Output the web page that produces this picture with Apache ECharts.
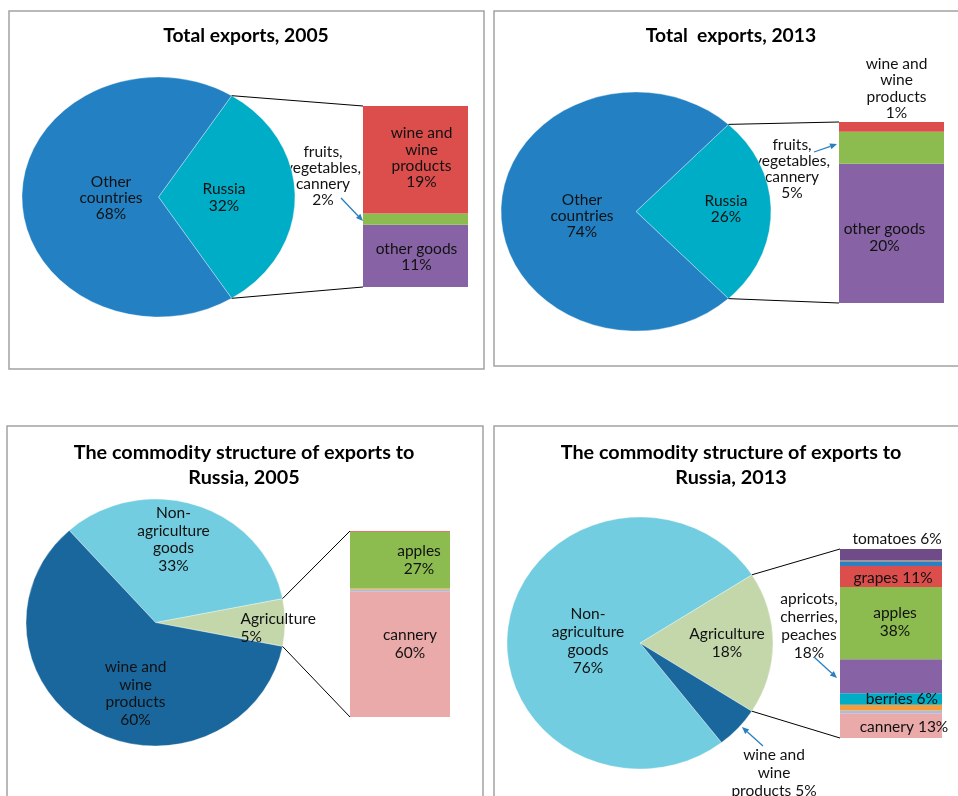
<!DOCTYPE html>
<html><head><meta charset="utf-8">
<script src="https://cdn.jsdelivr.net/npm/echarts@6/dist/echarts.min.js"></script>
<style>html,body{margin:0;padding:0;background:#fff}#c{width:958px;height:796px}</style>
</head><body><div id="c"></div>
<script>
// ---------------- data ----------------
// Pie slices are listed counter-clockwise, starting with the slice that is exploded into the bar.
const total2005Slices = ['Russia', 'Other\ncountries'];
const total2005Values = [32, 68];
const total2005Pct = [32, 68];
// bar segments, bottom to top
const total2005BarItems = ['other goods', 'fruits, vegetables, cannery', 'wine and wine products'];
const total2005BarValues = [11, 2, 19];
const total2005BarLabels = ['other goods\n11%', '', 'wine and\nwine\nproducts\n19%'];

const total2013Slices = ['Russia', 'Other\ncountries'];
const total2013Values = [26, 74];
const total2013Pct = [26, 74];
const total2013BarItems = ['other goods', 'fruits, vegetables, cannery', 'wine and wine products'];
const total2013BarValues = [20, 4.6, 1.4];
const total2013BarLabels = ['other goods\n20%', '', 'wine and\nwine\nproducts\n1%'];

const struct2005Slices = ['Agriculture', 'Non-\nagriculture\ngoods', 'wine and\nwine\nproducts'];
const struct2005Values = [6.2, 33.5, 60.3];
const struct2005Pct = [5, 33, 60];
const struct2005BarItems = ['cannery', 'other 1', 'other 2', 'apples', 'other 3'];
const struct2005BarValues = [60, 0.8, 0.5, 27, 0.4];
const struct2005BarLabels = ['cannery\n60%', '', '', 'apples\n27%', ''];

const struct2013Slices = ['Agriculture', 'Non-\nagriculture\ngoods', 'wine and\nwine\nproducts'];
const struct2013Values = [18.2, 76.4, 5.4];
const struct2013Pct = [18, 76, 5];
const struct2013BarItems = ['cannery', 'other a', 'other b', 'berries', 'apricots, cherries, peaches', 'apples', 'grapes', 'other c', 'other d', 'tomatoes'];
const struct2013BarValues = [13, 1.5, 3, 6, 18, 38, 11, 2.5, 0.5, 6];
const struct2013BarLabels = ['cannery 13%', '', '', 'berries 6%', '', 'apples\n38%', 'grapes 11%', '', '', 'tomatoes 6%'];

// ---------------- layout & style ----------------
const FONT = 'Lato, "Liberation Sans", sans-serif';
const FS = 15.5;
const panels = [
  { title: 'Total exports, 2005', tx: 246, ty: 36, tfs: 19.3,
    pie: { cx: 158.5, cy: 197, rx: 136.5, ry: 120 }, lh: 16.3,
    slices: total2005Slices, values: total2005Values, pct: total2005Pct,
    sliceColors: ['#00adc6', '#2381c3'],
    sliceLabelPos: [[65.5, 0.5, 'center'], [-47.5, 1, 'center']],
    grid: { left: 363, top: 106, width: 105, height: 181 },
    barItems: total2005BarItems, barValues: total2005BarValues, barLabels: total2005BarLabels,
    barColors: ['#8763a5', '#8cbb4f', '#db4e4c'],
    barLabelCfg: [{ offset: [1, 1] }, null, { offset: [6, -2] }] },
  { title: 'Total  exports, 2013', tx: 731, ty: 36, tfs: 19.3,
    pie: { cx: 636, cy: 211.5, rx: 135, ry: 119.5 }, lh: 16.3,
    slices: total2013Slices, values: total2013Values, pct: total2013Pct,
    sliceColors: ['#00adc6', '#2381c3'],
    sliceLabelPos: [[90, -2.5, 'center'], [-54, 4.5, 'center']],
    grid: { left: 839, top: 122, width: 105, height: 181 },
    barItems: total2013BarItems, barValues: total2013BarValues, barLabels: total2013BarLabels,
    barColors: ['#8763a5', '#8cbb4f', '#db4e4c'],
    barLabelCfg: [{ offset: [-7, 4] }, null, { position: 'top', distance: 1, offset: [5, 0] }] },
  { title: 'The commodity structure of exports to\nRussia, 2005', tx: 244, ty: 465.5, tfs: 19.8,
    pie: { cx: 155.5, cy: 622.5, rx: 129.5, ry: 123.5 }, lh: 17.8,
    slices: struct2005Slices, values: struct2005Values, pct: struct2005Pct,
    sliceColors: ['#c3d7ab', '#71cddf', '#19679d'],
    sliceLabelPos: [[85, 5.5, 'left'], [18, -83, 'center'], [-20, 71, 'center']],
    grid: { left: 350, top: 531, width: 100, height: 186 },
    barItems: struct2005BarItems, barValues: struct2005BarValues, barLabels: struct2005BarLabels,
    barColors: ['#e9aaa9', '#a6bee2', '#f89b3b', '#8cbb4f', '#db4e4c'],
    barLabelCfg: [{ offset: [10, -10] }, null, null, { offset: [19, 0] }, null] },
  { title: 'The commodity structure of exports to\nRussia, 2013', tx: 731, ty: 465.5, tfs: 19.8,
    pie: { cx: 640, cy: 643, rx: 133, ry: 126 }, lh: 17.8,
    slices: struct2013Slices, values: struct2013Values, pct: struct2013Pct,
    sliceColors: ['#c3d7ab', '#71cddf', '#19679d'],
    sliceLabelPos: [[87, 0, 'center'], [-52, -2, 'center'], null],
    grid: { left: 840, top: 549, width: 102, height: 189 },
    barItems: struct2013BarItems, barValues: struct2013BarValues, barLabels: struct2013BarLabels,
    barColors: ['#e9aaa9', '#a6bee2', '#f89b3b', '#00adc7', '#8763a5', '#8cbb4f', '#db4e4c', '#2a80c2', '#f89b3b', '#6f4c87'],
    barLabelCfg: [{ offset: [13, 1] }, null, null, { position: 'insideRight', distance: 4, align: 'right' }, null,
                  { offset: [4, -1] }, { offset: [2, 1] }, null, null, { position: 'top', distance: 1, offset: [6, 0] }] }
];

const chart = echarts.init(document.getElementById('c'), null, { renderer: 'canvas' });
const sum = a => a.reduce((s, v) => s + v, 0);

function pieSeries(p) {
  const vals = p.values, tot = sum(vals);
  const starts = [];
  let a = -vals[0] / tot * 180; // first slice centred on the right
  vals.forEach(v => { starts.push(a); a += v / tot * 360; });
  const { cx, cy, rx, ry } = p.pie;
  const rad = d => d * Math.PI / 180;
  return {
    type: 'custom', coordinateSystem: 'none', silent: true,
    data: vals.map((v, i) => [i, v]),
    renderItem(params, api) {
      const i = params.dataIndex;
      const v = api.value(1);
      const a0 = starts[i], a1 = a0 + v / tot * 360;
      const children = [{
        type: 'sector', x: cx, y: cy, scaleY: ry / rx,
        shape: { cx: 0, cy: 0, r: rx, r0: 0, startAngle: -rad(a1), endAngle: -rad(a0), clockwise: true },
        style: { fill: p.sliceColors[i], stroke: 'rgba(255,255,255,0.6)', lineWidth: 0.6 }
      }];
      const lp = p.sliceLabelPos[i];
      if (lp) {
        children.push({
          type: 'text', x: cx + lp[0], y: cy + lp[1], z2: 10,
          style: { text: p.slices[i] + '\n' + p.pct[i] + '%', fill: '#111', font: FS + 'px ' + FONT,
                   lineHeight: p.lh, align: lp[2], verticalAlign: 'middle' }
        });
      }
      if (i === 0) {
        const g = p.grid;
        const ux = cx + rx * Math.cos(rad(a1)), uy = cy - ry * Math.sin(rad(a1));
        const lx = cx + rx * Math.cos(rad(a0)), ly = cy - ry * Math.sin(rad(a0));
        children.push({ type: 'line', z2: 5, shape: { x1: ux, y1: uy, x2: g.left, y2: g.top }, style: { stroke: '#000', lineWidth: 1 } });
        children.push({ type: 'line', z2: 5, shape: { x1: lx, y1: ly, x2: g.left, y2: g.top + g.height }, style: { stroke: '#000', lineWidth: 1 } });
      }
      return { type: 'group', children };
    }
  };
}

const grids = [], xAxes = [], yAxes = [], series = [];
panels.forEach((p, k) => {
  grids.push(Object.assign({ containLabel: false }, p.grid));
  xAxes.push({ type: 'category', gridIndex: k, data: ['x'], show: false, boundaryGap: true });
  yAxes.push({ type: 'value', gridIndex: k, min: 0, max: sum(p.barValues), show: false });
  p.barValues.forEach((v, j) => {
    const cfg = p.barLabelCfg[j];
    series.push({
      type: 'bar', name: p.barItems[j], xAxisIndex: k, yAxisIndex: k, stack: 'p' + k,
      barWidth: '100%', silent: true, data: [v],
      itemStyle: { color: p.barColors[j] },
      label: cfg ? Object.assign({
        show: true, position: 'inside', formatter: p.barLabels[j], color: '#111',
        fontFamily: FONT, fontSize: FS, lineHeight: p.lh, align: 'center'
      }, cfg) : { show: false }
    });
  });
  series.push(pieSeries(p));
});

function arrow(x1, y1, x2, y2) {
  const ang = Math.atan2(y2 - y1, x2 - x1), L = 7, W = 3;
  const bx = x2 - L * Math.cos(ang), by = y2 - L * Math.sin(ang);
  const c = '#2a7fc0';
  return { type: 'group', children: [
    { type: 'line', shape: { x1, y1, x2: bx, y2: by }, style: { stroke: c, lineWidth: 1.3 } },
    { type: 'polygon', shape: { points: [[x2, y2], [bx - W * Math.sin(ang), by + W * Math.cos(ang)], [bx + W * Math.sin(ang), by - W * Math.cos(ang)]] }, style: { fill: c } }
  ] };
}
function txt(x, y, text, lh, align) {
  return { type: 'text', x, y, style: { text, fill: '#111', font: FS + 'px ' + FONT, lineHeight: lh, align: align || 'center', verticalAlign: 'middle' } };
}

const graphics = [
  { type: 'rect', shape: { x: 9, y: 11, width: 475, height: 358 }, style: { fill: 'none', stroke: '#a3a3a3', lineWidth: 1.5 } },
  { type: 'rect', shape: { x: 494, y: 11, width: 480, height: 355 }, style: { fill: 'none', stroke: '#a3a3a3', lineWidth: 1.5 } },
  { type: 'rect', shape: { x: 7, y: 426, width: 476, height: 400 }, style: { fill: 'none', stroke: '#a3a3a3', lineWidth: 1.5 } },
  { type: 'rect', shape: { x: 494, y: 426, width: 480, height: 400 }, style: { fill: 'none', stroke: '#a3a3a3', lineWidth: 1.5 } },
  txt(323, 176, 'fruits,\nvegetables,\ncannery\n' + total2005BarValues[1] + '%', 16.3),
  arrow(341, 198, 363, 221),
  txt(792, 169, 'fruits,\nvegetables,\ncannery\n' + Math.round(total2013BarValues[1]) + '%', 16.3),
  arrow(814, 152, 837, 144),
  txt(809, 626, 'apricots,\ncherries,\npeaches\n' + struct2013BarValues[4] + '%', 17.8),
  arrow(814, 657, 837, 678),
  txt(774, 773, 'wine and\nwine\nproducts ' + struct2013Pct[2] + '%', 17.8),
  arrow(763, 746, 742, 727)
];
panels.forEach(p => {
  graphics.push({ type: 'text', x: p.tx, y: p.ty, z: 10,
    style: { text: p.title, fill: '#000', font: 'bold ' + p.tfs + 'px ' + FONT, lineHeight: 25, align: 'center', verticalAlign: 'middle' } });
});

chart.setOption({
  backgroundColor: '#fff',
  animation: false,
  grid: grids, xAxis: xAxes, yAxis: yAxes,
  series,
  graphic: { elements: graphics }
});
</script></body></html>
